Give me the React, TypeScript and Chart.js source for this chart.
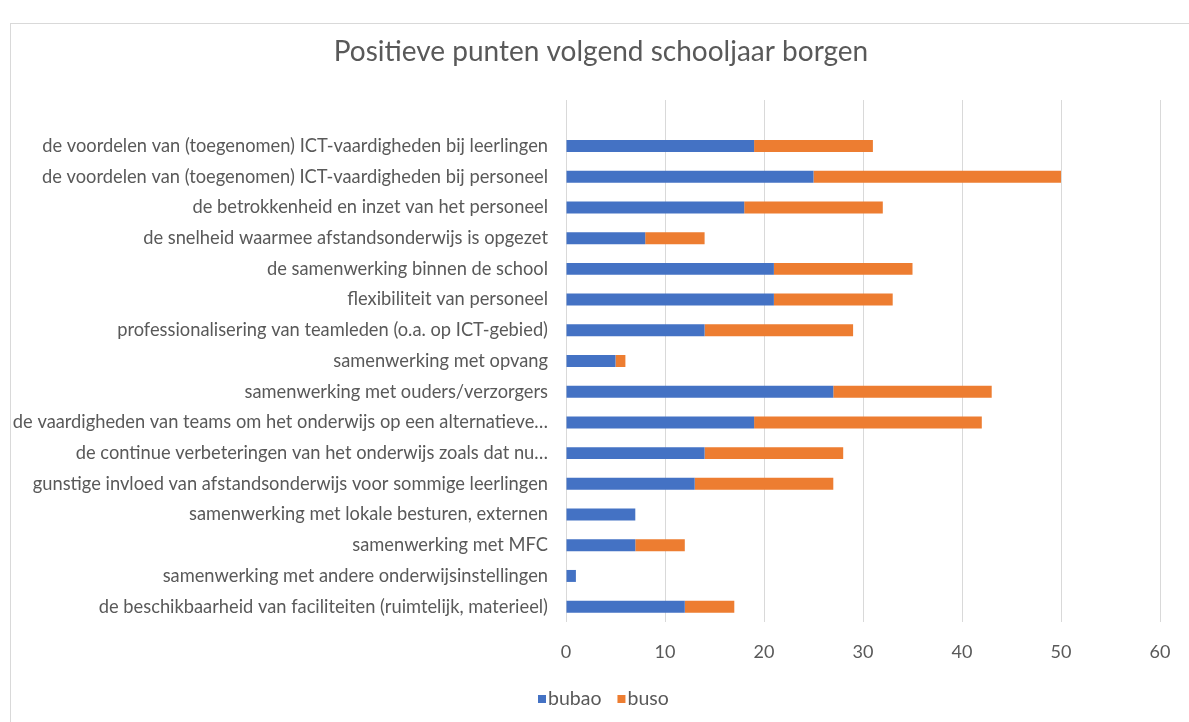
import React, { useEffect, useRef } from "react";
import { Chart, registerables } from "chart.js";

Chart.register(...registerables);

const categories: string[] = [
  "",
  "de voordelen van (toegenomen) ICT-vaardigheden bij leerlingen",
  "de voordelen van (toegenomen) ICT-vaardigheden bij personeel",
  "de betrokkenheid en inzet van het personeel",
  "de snelheid waarmee afstandsonderwijs is opgezet",
  "de samenwerking binnen de school",
  "flexibiliteit van personeel",
  "professionalisering van teamleden (o.a. op ICT-gebied)",
  "samenwerking met opvang",
  "samenwerking met ouders/verzorgers",
  "de vaardigheden van teams om het onderwijs op een alternatieve…",
  "de continue verbeteringen van het onderwijs zoals dat nu…",
  "gunstige invloed van afstandsonderwijs voor sommige leerlingen",
  "samenwerking met lokale besturen, externen",
  "samenwerking met MFC",
  "samenwerking met andere onderwijsinstellingen",
  "de beschikbaarheid van faciliteiten (ruimtelijk, materieel)",
];

const bubao: (number | null)[] = [null, 19, 25, 18, 8, 21, 21, 14, 5, 27, 19, 14, 13, 7, 7, 1, 12];
const buso: (number | null)[] = [null, 12, 25, 14, 6, 14, 12, 15, 1, 16, 23, 14, 14, 0, 5, 0, 5];

const seriesNames = ["bubao", "buso"];
const seriesColors = ["#4472C4", "#ED7D31"];
const xTicks = [0, 10, 20, 30, 40, 50, 60];

const FONT = "Lato, 'Open Sans', sans-serif";
const TEXT = "#595959";

const legendPlugin = {
  id: "customLegend",
  afterDraw(chart: any) {
    const ctx = chart.ctx;
    ctx.save();
    ctx.font = `19.5px ${FONT}`;
    ctx.textBaseline = "middle";
    ctx.textAlign = "left";
    let x = 527;
    const y = 675;
    chart.data.datasets.forEach((ds: any) => {
      ctx.fillStyle = ds.backgroundColor;
      ctx.fillRect(x, y - 4, 8, 8);
      x += 10;
      ctx.fillStyle = TEXT;
      ctx.fillText(ds.label, x, y);
      x += ctx.measureText(ds.label).width + 16;
    });
    ctx.restore();
  },
};

export default function App() {
  const ref = useRef<HTMLCanvasElement>(null);
  useEffect(() => {
    if (!ref.current) return;
    const chart = new Chart(ref.current, {
      type: "bar",
      data: {
        labels: categories,
        datasets: [
          { label: seriesNames[0], data: bubao, backgroundColor: seriesColors[0], categoryPercentage: 1, barPercentage: 0.39 },
          { label: seriesNames[1], data: buso, backgroundColor: seriesColors[1], categoryPercentage: 1, barPercentage: 0.39 },
        ],
      },
      options: {
        indexAxis: "y",
        animation: false,
        responsive: false,
        maintainAspectRatio: false,
        layout: { padding: 0 },
        plugins: {
          legend: { display: false },
          tooltip: { enabled: false },
          title: {
            display: true,
            text: "Positieve punten volgend schooljaar borgen",
            color: TEXT,
            font: { family: FONT, size: 28, weight: "normal", lineHeight: 1.2 },
            padding: { top: 11.2, bottom: 31.2 },
          },
        },
        scales: {
          x: {
            stacked: true,
            min: 0,
            max: 60,
            afterBuildTicks: (scale: any) => {
              scale.ticks = xTicks.map((v) => ({ value: v }));
            },
            afterFit: (scale: any) => {
              scale.height = 100;
            },
            grid: { color: "#d9d9d9", lineWidth: 1, drawTicks: false },
            border: { display: false },
            ticks: { color: TEXT, font: { family: FONT, size: 18 }, padding: 19 },
          },
          y: {
            stacked: true,
            afterFit: (scale: any) => {
              scale.width = 555;
            },
            grid: { display: false, drawTicks: false },
            border: { display: false },
            ticks: { color: TEXT, font: { family: FONT, size: 18.3 }, padding: 18, autoSkip: false },
          },
          yRight: {
            type: "linear",
            axis: "y",
            position: "right",
            display: true,
            afterFit: (scale: any) => {
              scale.width = 31;
            },
            grid: { display: false, drawTicks: false },
            border: { display: false },
            ticks: { display: false },
          },
        },
      },
      plugins: [legendPlugin],
    });
    return () => chart.destroy();
  }, []);

  return (
    <div style={{ position: "fixed", left: 0, top: 0, width: 1189, height: 722, overflow: "hidden", background: "#fff" }}>
      <div
        style={{
          position: "absolute",
          left: 10,
          top: 23,
          width: 1180,
          height: 720,
          borderLeft: "1px solid #d9d9d9",
          borderTop: "1px solid #d9d9d9",
          borderRight: "1px solid #d9d9d9",
        }}
      >
        <canvas ref={ref} width={1180} height={698} style={{ display: "block" }} />
      </div>
    </div>
  );
}
